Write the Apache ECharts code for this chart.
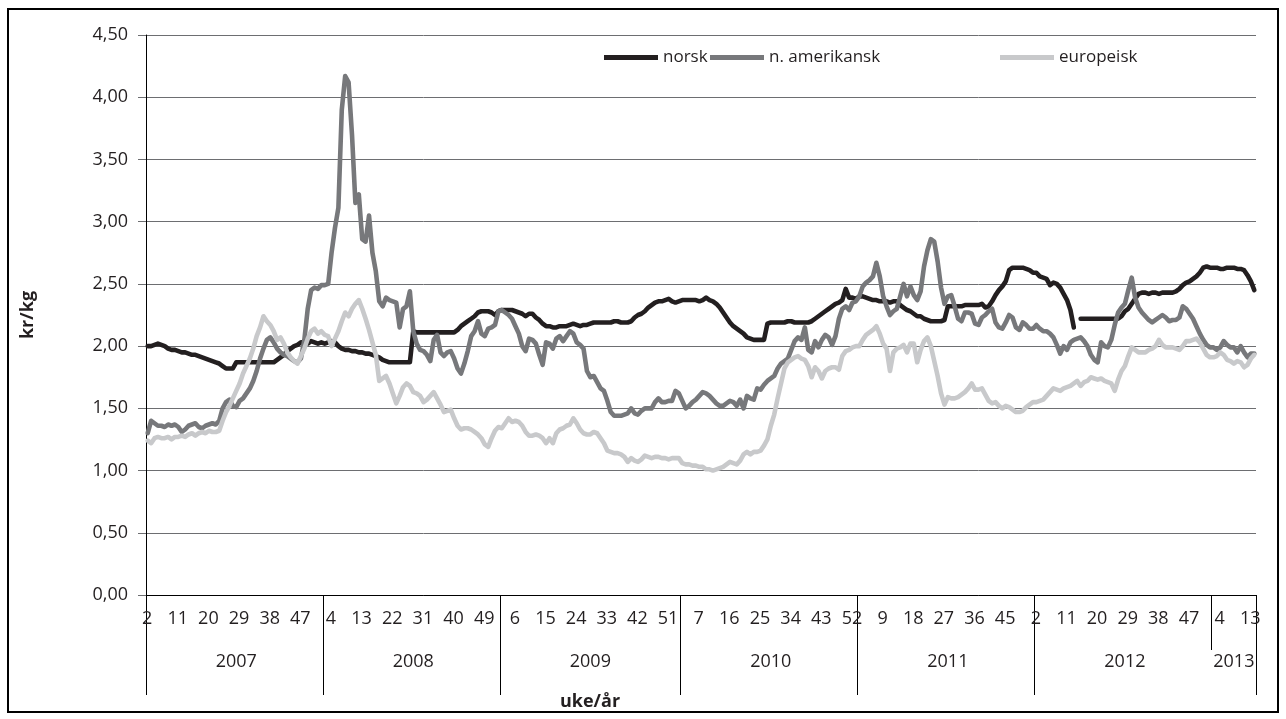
<!DOCTYPE html>
<html>
<head>
<meta charset="utf-8">
<script src="https://cdn.jsdelivr.net/npm/echarts@6/dist/echarts.min.js"></script>
<style>html,body{margin:0;padding:0;background:#fff}#c{width:1286px;height:719px}</style>
</head>
<body>
<div id="c"></div>
<script>
// ---- data ----
const years = ['2007','2008','2009','2010','2011','2012','2013'];
const weeksPerYear = [52,52,53,52,52,52,13];
const firstWeek = [1,1,1,1,1,1,1];
const yTicks = [0,0.5,1,1.5,2,2.5,3,3.5,4,4.5];
const seriesNames = ['norsk','n. amerikansk','europeisk'];

const norsk2007 = [2.00,2.00,2.01,2.02,2.01,2.00,1.98,1.97,1.97,1.96,1.95,1.95,1.94,1.93,1.93,1.92,1.91,1.90,1.89,1.88,1.87,1.86,1.84,1.82,1.82,1.82,1.87,1.87,1.87,1.87,1.87,1.87,1.87,1.87,1.87,1.87,1.87,1.87,1.89,1.91,1.93,1.96,1.98,2.00,2.01,2.03,2.03,2.02,2.04,2.03,2.02,2.03];
const norsk2008 = [2.02,2.03,2.04,2.03,2.00,1.98,1.97,1.97,1.96,1.96,1.95,1.95,1.94,1.94,1.93,1.92,1.91,1.89,1.88,1.87,1.87,1.87,1.87,1.87,1.87,1.87,2.12,2.11,2.11,2.11,2.11,2.11,2.11,2.11,2.11,2.11,2.11,2.11,2.11,2.13,2.16,2.18,2.20,2.22,2.24,2.27,2.28,2.28,2.28,2.27,2.25,2.28];
const norsk2009 = [2.29,2.29,2.29,2.29,2.28,2.27,2.26,2.24,2.26,2.26,2.23,2.21,2.18,2.16,2.16,2.15,2.15,2.16,2.16,2.16,2.17,2.18,2.17,2.16,2.17,2.17,2.18,2.19,2.19,2.19,2.19,2.19,2.19,2.20,2.20,2.19,2.19,2.19,2.20,2.23,2.25,2.26,2.28,2.31,2.33,2.35,2.36,2.36,2.37,2.38,2.36,2.35,2.36];
const norsk2010 = [2.37,2.37,2.37,2.37,2.37,2.36,2.37,2.39,2.37,2.36,2.34,2.31,2.27,2.23,2.19,2.16,2.14,2.12,2.10,2.07,2.06,2.05,2.05,2.05,2.05,2.18,2.19,2.19,2.19,2.19,2.19,2.20,2.20,2.19,2.19,2.19,2.19,2.19,2.20,2.22,2.24,2.26,2.28,2.30,2.32,2.34,2.35,2.37,2.46,2.39,2.39,2.38];
const norsk2011 = [2.40,2.40,2.39,2.38,2.37,2.37,2.36,2.36,2.36,2.35,2.36,2.36,2.33,2.31,2.29,2.28,2.26,2.24,2.24,2.22,2.21,2.20,2.20,2.20,2.20,2.21,2.32,2.32,2.32,2.32,2.32,2.33,2.33,2.33,2.33,2.33,2.34,2.31,2.32,2.36,2.41,2.45,2.48,2.52,2.61,2.63,2.63,2.63,2.63,2.62,2.61,2.59];
const norsk2012 = [2.59,2.56,2.55,2.54,2.49,2.51,2.50,2.47,2.42,2.37,2.29,2.15,null,2.22,2.22,2.22,2.22,2.22,2.22,2.22,2.22,2.22,2.22,2.22,2.22,2.24,2.28,2.30,2.34,2.38,2.42,2.43,2.43,2.42,2.43,2.43,2.42,2.43,2.43,2.43,2.43,2.44,2.46,2.49,2.51,2.52,2.54,2.56,2.59,2.63,2.64,2.63];
const norsk2013 = [2.63,2.63,2.62,2.62,2.63,2.63,2.63,2.62,2.62,2.61,2.57,2.52,2.45];

const amer2007 = [1.30,1.40,1.38,1.36,1.36,1.35,1.37,1.36,1.37,1.35,1.31,1.33,1.36,1.37,1.38,1.35,1.34,1.36,1.37,1.38,1.37,1.40,1.50,1.55,1.57,1.52,1.51,1.56,1.58,1.62,1.66,1.72,1.80,1.90,1.98,2.05,2.07,2.03,1.98,1.95,1.93,1.92,1.90,1.88,1.87,1.90,2.05,2.30,2.45,2.47,2.46,2.49];
const amer2008 = [2.49,2.50,2.75,2.95,3.11,3.90,4.17,4.12,3.70,3.15,3.22,2.86,2.84,3.05,2.75,2.60,2.36,2.32,2.39,2.37,2.36,2.35,2.15,2.30,2.32,2.44,2.12,2.02,1.97,1.96,1.93,1.88,2.05,2.09,1.95,1.92,1.95,1.96,1.90,1.82,1.78,1.86,1.96,2.08,2.12,2.20,2.10,2.08,2.14,2.15,2.17,2.28];
const amer2009 = [2.29,2.27,2.25,2.22,2.16,2.10,2.00,1.96,2.06,2.05,2.02,1.93,1.85,2.03,2.02,1.98,2.06,2.08,2.04,2.08,2.12,2.10,2.03,2.01,1.98,1.80,1.75,1.76,1.71,1.66,1.64,1.56,1.47,1.44,1.44,1.44,1.45,1.46,1.50,1.46,1.45,1.48,1.50,1.50,1.50,1.55,1.58,1.55,1.55,1.56,1.56,1.64,1.62];
const amer2010 = [1.56,1.50,1.52,1.55,1.57,1.60,1.63,1.62,1.60,1.57,1.54,1.52,1.52,1.54,1.56,1.55,1.52,1.57,1.50,1.60,1.58,1.57,1.66,1.65,1.69,1.72,1.74,1.76,1.82,1.86,1.88,1.90,1.97,2.04,2.07,2.05,2.15,1.97,1.95,2.04,1.99,2.05,2.09,2.07,2.01,2.08,2.22,2.30,2.32,2.29,2.35,2.36];
const amer2011 = [2.40,2.48,2.51,2.53,2.56,2.67,2.56,2.40,2.32,2.25,2.28,2.30,2.40,2.50,2.40,2.48,2.41,2.37,2.44,2.64,2.77,2.86,2.84,2.68,2.47,2.34,2.40,2.41,2.32,2.22,2.20,2.27,2.27,2.26,2.18,2.17,2.23,2.25,2.28,2.30,2.19,2.15,2.14,2.19,2.25,2.23,2.15,2.13,2.19,2.17,2.14,2.14];
const amer2012 = [2.17,2.14,2.12,2.12,2.10,2.07,2.01,1.94,2.00,1.97,2.03,2.05,2.06,2.07,2.04,2.00,1.93,1.89,1.87,2.03,2.00,1.99,2.05,2.17,2.27,2.31,2.34,2.45,2.55,2.39,2.31,2.27,2.24,2.21,2.19,2.21,2.23,2.25,2.23,2.20,2.21,2.21,2.23,2.32,2.30,2.26,2.22,2.16,2.10,2.05,2.01,1.99];
const amer2013 = [1.99,1.97,1.99,2.04,2.01,1.99,1.99,1.95,2.00,1.95,1.91,1.94,1.94];

const euro2007 = [1.24,1.22,1.26,1.27,1.26,1.26,1.27,1.25,1.27,1.27,1.28,1.27,1.29,1.30,1.28,1.30,1.31,1.30,1.32,1.31,1.31,1.32,1.40,1.47,1.52,1.58,1.64,1.70,1.78,1.84,1.90,1.98,2.08,2.15,2.24,2.20,2.17,2.12,2.05,2.07,2.02,1.95,1.91,1.88,1.86,1.92,1.98,2.06,2.12,2.14,2.10,2.12];
const euro2008 = [2.09,2.08,2.00,2.06,2.12,2.20,2.27,2.24,2.30,2.34,2.37,2.30,2.22,2.13,2.03,1.93,1.72,1.74,1.76,1.70,1.62,1.54,1.60,1.67,1.70,1.68,1.63,1.62,1.60,1.55,1.57,1.60,1.63,1.58,1.53,1.47,1.48,1.49,1.42,1.36,1.33,1.34,1.34,1.33,1.31,1.29,1.26,1.21,1.19,1.26,1.32,1.35];
const euro2009 = [1.34,1.38,1.42,1.39,1.40,1.39,1.36,1.31,1.28,1.28,1.29,1.28,1.26,1.22,1.26,1.22,1.30,1.33,1.34,1.36,1.37,1.42,1.38,1.33,1.30,1.29,1.29,1.31,1.30,1.26,1.22,1.16,1.15,1.14,1.14,1.13,1.11,1.07,1.10,1.08,1.07,1.09,1.12,1.11,1.10,1.11,1.11,1.10,1.10,1.09,1.10,1.10,1.10];
const euro2010 = [1.06,1.05,1.05,1.04,1.04,1.03,1.03,1.01,1.01,1.00,1.01,1.02,1.03,1.05,1.07,1.06,1.05,1.08,1.13,1.15,1.13,1.15,1.15,1.16,1.20,1.25,1.36,1.45,1.58,1.70,1.82,1.87,1.89,1.91,1.92,1.90,1.89,1.84,1.75,1.83,1.80,1.74,1.80,1.82,1.83,1.83,1.81,1.92,1.96,1.97,1.99,2.00];
const euro2011 = [2.00,2.05,2.09,2.11,2.13,2.16,2.10,2.02,1.98,1.80,1.95,1.98,1.99,2.01,1.95,2.02,2.02,1.87,1.97,2.04,2.07,2.00,1.88,1.76,1.62,1.53,1.59,1.58,1.58,1.59,1.61,1.63,1.66,1.70,1.65,1.65,1.66,1.61,1.56,1.54,1.55,1.52,1.50,1.52,1.51,1.49,1.47,1.47,1.48,1.51,1.53,1.55];
const euro2012 = [1.55,1.56,1.57,1.60,1.63,1.66,1.65,1.64,1.66,1.67,1.68,1.70,1.72,1.68,1.71,1.72,1.75,1.74,1.73,1.74,1.72,1.71,1.70,1.64,1.73,1.80,1.84,1.92,1.99,1.97,1.95,1.95,1.95,1.97,1.98,2.00,2.05,2.01,1.99,1.99,1.99,1.98,1.97,2.00,2.04,2.04,2.05,2.06,2.03,1.98,1.93,1.91];
const euro2013 = [1.91,1.92,1.95,1.93,1.89,1.88,1.86,1.88,1.87,1.83,1.85,1.90,1.93];

// ---- build categories ----
const categories = [];
const yearStartIdx = [];
const yearMidIdx = {};
years.forEach((y, k) => {
  yearStartIdx.push(categories.length);
  yearMidIdx[categories.length + Math.floor(weeksPerYear[k] / 2)] = y;
  for (let w = 0; w < weeksPerYear[k]; w++) categories.push(y + '-' + (firstWeek[k] + w));
});
const norsk = [].concat(norsk2007, norsk2008, norsk2009, norsk2010, norsk2011, norsk2012, norsk2013);
const amer = [].concat(amer2007, amer2008, amer2009, amer2010, amer2011, amer2012, amer2013);
const euro = [].concat(euro2007, euro2008, euro2009, euro2010, euro2011, euro2012, euro2013);
const lastYearStart = yearStartIdx[yearStartIdx.length - 1];

const FONT = "'Open Sans', 'Noto Sans', sans-serif";
const TXT = '#231f20';
const COLORS = ['#231f20', '#77787b', '#c8c9cb'];
const LW = 4.6;

const chart = echarts.init(document.getElementById('c'), null, {renderer: 'canvas'});
const legendLeft = [604, 710, 1000];
chart.setOption({
  animation: false,
  backgroundColor: '#fff',
  textStyle: {fontFamily: FONT, color: TXT},
  grid: {left: 146, right: 30, top: 35, bottom: 124, containLabel: false},
  legend: seriesNames.map((n, i) => ({
    data: [n], left: legendLeft[i], top: 49, padding: 0, icon: 'rect', itemWidth: 54, itemHeight: 5,
    itemGap: 0, textStyle: {fontFamily: FONT, fontSize: 17, color: TXT}, selectedMode: false
  })),
  xAxis: [
    {
      type: 'category', data: categories, boundaryGap: true, position: 'bottom',
      axisLine: {show: true, lineStyle: {color: '#000', width: 1}},
      axisTick: {show: true, length: 55, lineStyle: {color: '#000', width: 1},
        interval: (i) => i === 0 || i === lastYearStart},
      axisLabel: {interval: (i) => (i - 1) % 9 === 0, formatter: (v) => v.split('-')[1],
        fontFamily: FONT, fontSize: 18, color: TXT, margin: 15, padding: [0, 8, 0, 0]},
      splitLine: {show: false}
    },
    {
      type: 'category', data: categories, boundaryGap: true, position: 'bottom',
      axisLine: {show: false},
      axisTick: {show: true, length: 100, lineStyle: {color: '#000', width: 1},
        interval: (i) => yearStartIdx.indexOf(i) >= 0 && i !== lastYearStart},
      axisLabel: {interval: (i) => yearMidIdx[i] !== undefined, formatter: (v) => v.split('-')[0],
        fontFamily: FONT, fontSize: 18, color: TXT, margin: 58},
      splitLine: {show: false}
    }
  ],
  yAxis: {
    type: 'value', min: yTicks[0], max: yTicks[yTicks.length - 1], interval: 0.5,
    axisLine: {show: true, lineStyle: {color: '#000', width: 1}},
    axisTick: {show: true, length: 8, lineStyle: {color: '#6d6e71'}},
    axisLabel: {formatter: (v) => v.toFixed(2).replace('.', ','), fontFamily: FONT, fontSize: 18, color: TXT, margin: 18},
    splitLine: {show: true, lineStyle: {color: '#6d6e71', width: 1}}
  },
  series: [
    {name: seriesNames[0], type: 'line', data: norsk, showSymbol: false, symbol: 'none', connectNulls: false,
      lineStyle: {color: COLORS[0], width: LW, cap: 'round', join: 'round'}, itemStyle: {color: COLORS[0]}},
    {name: seriesNames[1], type: 'line', data: amer, showSymbol: false, symbol: 'none',
      lineStyle: {color: COLORS[1], width: LW, cap: 'round', join: 'round'}, itemStyle: {color: COLORS[1]}},
    {name: seriesNames[2], type: 'line', data: euro, showSymbol: false, symbol: 'none',
      lineStyle: {color: COLORS[2], width: LW, cap: 'round', join: 'round'}, itemStyle: {color: COLORS[2]}}
  ],
  graphic: [
    {type: 'rect', shape: {x: 8, y: 9, width: 1270, height: 703}, style: {fill: 'none', stroke: '#000', lineWidth: 2}, silent: true},
    {type: 'text', x: 28, y: 315, rotation: Math.PI / 2,
      style: {text: 'kr/kg', font: 'bold 18px ' + FONT, fill: TXT, align: 'center', verticalAlign: 'middle'}},
    {type: 'text', x: 590, y: 702,
      style: {text: 'uke/år', font: 'bold 18px ' + FONT, fill: TXT, align: 'center', verticalAlign: 'middle'}}
  ]
});
</script>
</body>
</html>
